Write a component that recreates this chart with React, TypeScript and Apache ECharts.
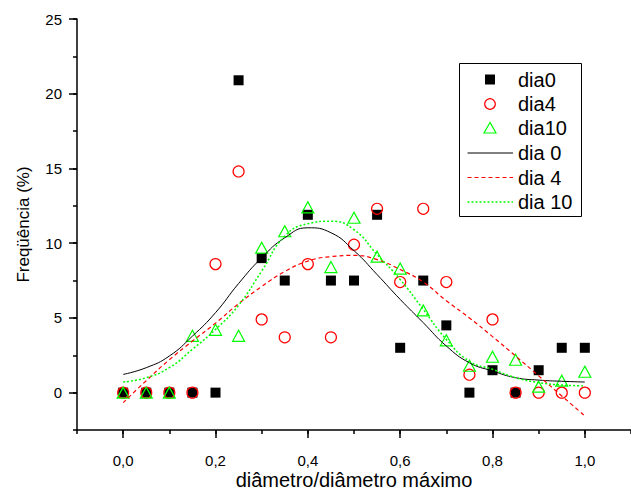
import React, { useEffect, useRef } from 'react';
import * as echarts from 'echarts';

// x positions of the measured classes (diâmetro/diâmetro máximo)
const X_VALUES = [0, 0.05, 0.1, 0.15, 0.2, 0.25, 0.3, 0.35, 0.4, 0.45, 0.5, 0.55, 0.6, 0.65, 0.7, 0.75, 0.8, 0.85, 0.9, 0.95, 1.0];

// measured frequencies (%)
const DIA0 = [0, 0, 0, 0, 0, 20.9, 9.0, 7.5, 11.9, 7.5, 7.5, 11.9, 3.0, 7.5, 4.5, 0, 1.5, 0, 1.5, 3.0, 3.0];
const DIA4 = [0, 0, 0, 0, 8.6, 14.8, 4.9, 3.7, 8.6, 3.7, 9.9, 12.3, 7.4, 12.3, 7.4, 1.2, 4.9, 0, 0, 0, 0];
const DIA10 = [0, 0, 0, 3.8, 4.2, 3.8, 9.7, 10.8, 12.4, 8.4, 11.7, 9.1, 8.3, 5.5, 3.5, 1.8, 2.4, 2.2, 0.4, 0.8, 1.4];

// fitted curves at the same x positions
const FIT0 = [1.22, 1.67, 2.45, 3.78, 5.35, 7.3, 9.02, 10.36, 11.03, 10.7, 9.5, 7.9, 6.24, 4.68, 3.12, 2.0, 1.45, 1.0, 0.84, 0.76, 0.71];
const FIT4 = [-0.67, 0.8, 2.2, 3.45, 4.65, 5.95, 7.1, 8.1, 8.8, 9.1, 9.18, 8.9, 8.24, 7.4, 6.15, 5.0, 3.75, 2.45, 1.12, -0.22, -1.56];
const FIT10 = [0.71, 1.0, 1.67, 2.9, 4.23, 5.85, 8.13, 10.47, 11.3, 11.47, 10.9, 9.24, 7.57, 5.57, 3.56, 2.1, 1.56, 1.0, 0.67, 0.51, 0.45];

// axis ticks
const X_MAJOR_TICKS = [0, 0.2, 0.4, 0.6, 0.8, 1.0];
const Y_MAJOR_TICKS = [0, 5, 10, 15, 20, 25];

const LEGEND_NAMES = ['dia0', 'dia4', 'dia10', 'dia 0', 'dia 4', 'dia 10'];

const FONT = '"Liberation Sans", Arial, Helvetica, sans-serif';
const BLACK = '#000000';
const RED = '#ff0000';
const GREEN = '#00ff00';

export default function App() {
  const ref = useRef<HTMLDivElement>(null);

  useEffect(() => {
    if (!ref.current) return;
    const chart = echarts.init(ref.current, null, { renderer: 'svg' });
    const pairs = (ys: number[]) => X_VALUES.map((x, i) => [x, ys[i]]);
    const axisLineStyle = { color: BLACK, width: 1.5 };

    const legendRows = [79.5, 104, 128, 153, 177.5, 202];
    const symX = 490;
    const graphic: any[] = [
      {
        type: 'rect',
        shape: { x: 459.5, y: 63.5, width: 122, height: 153 },
        style: { fill: '#ffffff', stroke: BLACK, lineWidth: 1 },
        z: 100,
      },
      {
        type: 'rect',
        shape: { x: symX - 5, y: legendRows[0] - 5, width: 10, height: 10 },
        style: { fill: BLACK },
        z: 101,
      },
      {
        type: 'circle',
        shape: { cx: symX, cy: legendRows[1], r: 5.3 },
        style: { fill: 'none', stroke: RED, lineWidth: 1.2 },
        z: 101,
      },
      {
        type: 'polygon',
        shape: { points: [[symX, legendRows[2] - 5.5], [symX - 6, legendRows[2] + 5], [symX + 6, legendRows[2] + 5]] },
        style: { fill: 'none', stroke: GREEN, lineWidth: 1.2 },
        z: 101,
      },
      {
        type: 'line',
        shape: { x1: 467.5, y1: legendRows[3], x2: 513, y2: legendRows[3] },
        style: { stroke: BLACK, lineWidth: 1 },
        z: 101,
      },
      {
        type: 'line',
        shape: { x1: 467.5, y1: legendRows[4], x2: 513, y2: legendRows[4] },
        style: { stroke: RED, lineWidth: 1.2, lineDash: [4, 3] },
        z: 101,
      },
      {
        type: 'line',
        shape: { x1: 467.5, y1: legendRows[5], x2: 513, y2: legendRows[5] },
        style: { stroke: GREEN, lineWidth: 1.5, lineDash: [2, 2] },
        z: 101,
      },
      ...LEGEND_NAMES.map((name, i) => ({
        type: 'text',
        x: 518,
        y: legendRows[i],
        style: {
          text: name,
          fontSize: 20,
          fontFamily: FONT,
          fill: BLACK,
          align: 'left',
          verticalAlign: 'middle',
        },
        z: 101,
      })),
    ];

    chart.setOption({
      animation: false,
      backgroundColor: '#ffffff',
      grid: { left: 77, right: -8, top: 19, bottom: 65 },
      xAxis: [
        {
          type: 'value',
          position: 'bottom',
          min: -0.1,
          max: 1.1,
          interval: 0.1,
          axisLine: { show: true, onZero: false, lineStyle: axisLineStyle },
          axisTick: { show: true, length: 4, lineStyle: axisLineStyle },
          axisLabel: { show: false },
          splitLine: { show: false },
          name: 'diâmetro/diâmetro máximo',
          nameLocation: 'middle',
          nameGap: 40,
          nameTextStyle: { fontSize: 20, fontFamily: FONT, color: BLACK },
        },
        {
          type: 'value',
          position: 'bottom',
          min: -0.1,
          max: 1.1,
          interval: 0.1,
          axisLine: { show: false, onZero: false },
          axisTick: { show: true, length: 8, customValues: X_MAJOR_TICKS, lineStyle: axisLineStyle },
          axisLabel: {
            show: true,
            customValues: X_MAJOR_TICKS,
            formatter: (v: number) => v.toFixed(1).replace('.', ','),
            margin: 23,
            fontSize: 15,
            fontFamily: FONT,
            color: BLACK,
          },
          splitLine: { show: false },
        },
      ],
      yAxis: [
        {
          type: 'value',
          position: 'left',
          min: -2.5,
          max: 25,
          interval: 2.5,
          axisLine: { show: true, onZero: false, lineStyle: axisLineStyle },
          axisTick: { show: true, length: 4, lineStyle: axisLineStyle },
          axisLabel: { show: false },
          splitLine: { show: false },
          name: 'Freqüência (%)',
          nameLocation: 'middle',
          nameGap: 45,
          nameRotate: 90,
          nameTextStyle: { fontSize: 17, fontFamily: FONT, color: BLACK },
        },
        {
          type: 'value',
          position: 'left',
          min: -2.5,
          max: 25,
          interval: 2.5,
          axisLine: { show: false, onZero: false },
          axisTick: { show: true, length: 8, customValues: Y_MAJOR_TICKS, lineStyle: axisLineStyle },
          axisLabel: {
            show: true,
            customValues: Y_MAJOR_TICKS,
            formatter: (v: number) => String(Math.round(v)),
            margin: 15,
            fontSize: 15,
            fontFamily: FONT,
            color: BLACK,
          },
          splitLine: { show: false },
        },
      ],
      series: [
        {
          name: 'dia0',
          type: 'scatter',
          xAxisIndex: 0,
          yAxisIndex: 0,
          symbol: 'rect',
          symbolSize: 10,
          itemStyle: { color: BLACK, opacity: 1 },
          data: pairs(DIA0),
          z: 2,
        },
        {
          name: 'dia4',
          type: 'scatter',
          xAxisIndex: 0,
          yAxisIndex: 0,
          symbol: 'circle',
          symbolSize: 11,
          itemStyle: { color: 'rgba(0,0,0,0)', borderColor: RED, borderWidth: 1.2, opacity: 1 },
          data: pairs(DIA4),
          z: 3,
        },
        {
          name: 'dia10',
          type: 'scatter',
          xAxisIndex: 0,
          yAxisIndex: 0,
          symbol: 'triangle',
          symbolSize: [12, 11],
          itemStyle: { color: 'rgba(0,0,0,0)', borderColor: GREEN, borderWidth: 1.2, opacity: 1 },
          data: pairs(DIA10),
          z: 4,
        },
        {
          name: 'dia 0',
          type: 'line',
          xAxisIndex: 0,
          yAxisIndex: 0,
          smooth: true,
          symbol: 'none',
          showSymbol: false,
          lineStyle: { color: BLACK, width: 1 },
          data: pairs(FIT0),
          z: 5,
        },
        {
          name: 'dia 4',
          type: 'line',
          xAxisIndex: 0,
          yAxisIndex: 0,
          smooth: true,
          symbol: 'none',
          showSymbol: false,
          lineStyle: { color: RED, width: 1.2, type: [4, 3] },
          data: pairs(FIT4),
          z: 5,
        },
        {
          name: 'dia 10',
          type: 'line',
          xAxisIndex: 0,
          yAxisIndex: 0,
          smooth: true,
          symbol: 'none',
          showSymbol: false,
          lineStyle: { color: GREEN, width: 1.5, type: [2, 2] },
          data: pairs(FIT10),
          z: 5,
        },
      ],
      graphic,
    });

    return () => {
      chart.dispose();
    };
  }, []);

  return (
    <div
      ref={ref}
      style={{ position: 'fixed', left: 0, top: 0, width: 631, height: 495, background: '#fff' }}
    />
  );
}
